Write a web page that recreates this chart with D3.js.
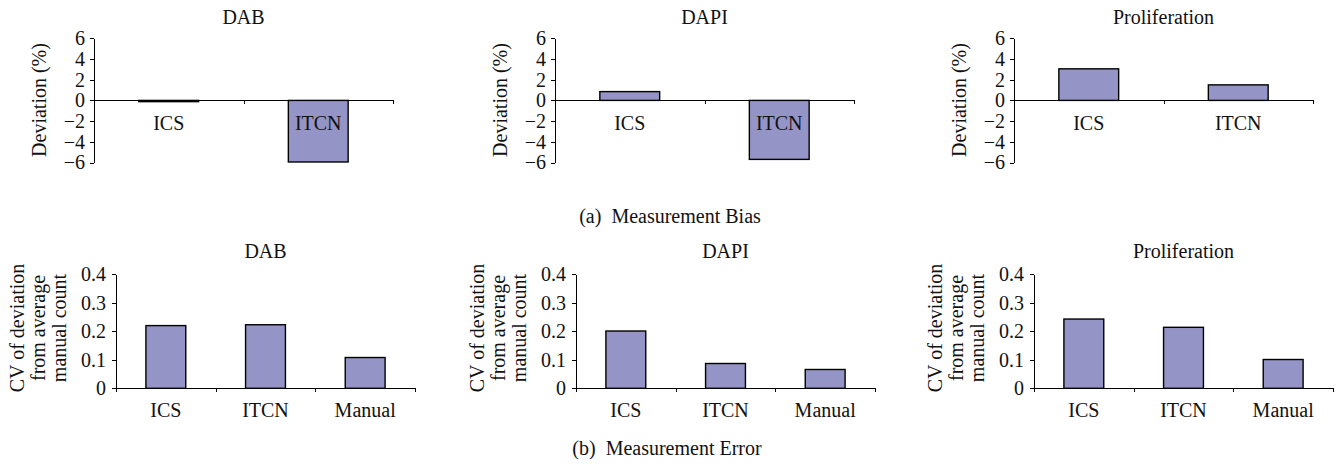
<!DOCTYPE html>
<html>
<head>
<meta charset="utf-8">
<script src="https://cdn.jsdelivr.net/npm/d3@7"></script>
<style>
  body { margin: 0; background: #fff; }
  svg { display: block; font-family: "Liberation Serif", "Times New Roman", serif; }
  .axis path, .axis line { stroke: #000; shape-rendering: crispEdges; }
  .axis text { font-size: 20px; fill: #111; font-family: "Liberation Serif", serif; }
</style>
</head>
<body>
<script>
// values
var panelTitles = ["DAB", "DAPI", "Proliferation"];

var biasCats = ["ICS", "ITCN"];
var dabBias = [-0.12, -5.95];
var dapiBias = [0.85, -5.7];
var prolifBias = [3.05, 1.5];
var biasTicks = [-6, -4, -2, 0, 2, 4, 6];

var errCats = ["ICS", "ITCN", "Manual"];
var dabErr = [0.22, 0.223, 0.108];
var dapiErr = [0.201, 0.087, 0.066];
var prolifErr = [0.243, 0.214, 0.101];
var errTicks = [0, 0.1, 0.2, 0.3, 0.4];

var W = 1339, H = 464;
var barFill = "#9494c6";
var fontSize = 20;

var svg = d3.select("body").append("svg")
    .attr("width", W)
    .attr("height", H);

function drawPanel(opts) {
    var g = svg.append("g").attr("transform", "translate(" + opts.x0 + ",0)");
    var w = opts.width;

    var y = d3.scaleLinear().domain(opts.domain).range(opts.yRange);
    var x = d3.scaleBand().domain(opts.cats).range([0, w])
        .paddingInner(0.6).paddingOuter(0.3);
    var xb = d3.scaleLinear().domain([0, opts.cats.length]).range([0, w]);

    var data = opts.cats.map(function (c, i) { return { cat: c, v: opts.values[i] }; });

    // bars
    g.selectAll("rect.bar")
        .data(data)
        .enter()
        .append("rect")
        .attr("class", "bar")
        .attr("x", function (d) { return x(d.cat); })
        .attr("width", x.bandwidth())
        .attr("y", function (d) { return y(Math.max(0, d.v)); })
        .attr("height", function (d) { return Math.abs(y(d.v) - y(0)); })
        .attr("fill", barFill)
        .attr("stroke", "#000")
        .attr("stroke-width", 1.4);

    // y axis
    g.append("g")
        .attr("class", "axis")
        .call(d3.axisLeft(y)
            .tickValues(opts.ticks)
            .tickSize(4)
            .tickSizeOuter(0)
            .tickPadding(opts.tickPad)
            .tickFormat(opts.fmt));

    // x axis (category boundary ticks)
    g.append("g")
        .attr("class", "axis")
        .attr("transform", "translate(0," + y(0) + ")")
        .call(d3.axisBottom(xb)
            .tickValues(d3.range(opts.cats.length + 1))
            .tickSize(4)
            .tickSizeOuter(0)
            .tickFormat(""));

    // category labels
    g.selectAll("text.cat")
        .data(data)
        .enter()
        .append("text")
        .attr("class", "cat")
        .attr("x", function (d) { return x(d.cat) + x.bandwidth() / 2; })
        .attr("y", y(0) + opts.catDy)
        .attr("text-anchor", "middle")
        .attr("font-size", fontSize)
        .attr("fill", "#111")
        .text(function (d) { return d.cat; });

    // title
    g.append("text")
        .attr("x", w / 2)
        .attr("y", opts.titleY)
        .attr("text-anchor", "middle")
        .attr("font-size", fontSize)
        .attr("fill", "#111")
        .text(opts.title);

    // y label (one or more lines)
    opts.yLabel.forEach(function (line, i) {
        g.append("text")
            .attr("transform", "translate(" + opts.yLabelX[i] + "," + opts.yLabelY + ") rotate(-90)")
            .attr("text-anchor", "middle")
            .attr("font-size", fontSize)
            .attr("fill", "#111")
            .text(line);
    });
}

var biasValues = [dabBias, dapiBias, prolifBias];
var topX = [94, 555, 1014];
biasValues.forEach(function (vals, i) {
    drawPanel({
        x0: topX[i], width: 299,
        cats: biasCats, values: vals,
        domain: [-6, 6], yRange: [162.5, 38.3],
        ticks: biasTicks, fmt: d3.format("d"), tickPad: 5,
        catDy: 30, title: panelTitles[i], titleY: 24,
        yLabel: ["Deviation (%)"], yLabelX: [-48], yLabelY: 100
    });
});

var errValues = [dabErr, dapiErr, prolifErr];
var botX = [116, 576, 1034];
errValues.forEach(function (vals, i) {
    drawPanel({
        x0: botX[i], width: 299,
        cats: errCats, values: vals,
        domain: [0, 0.4], yRange: [388.3, 274.3],
        ticks: errTicks, fmt: d3.format("~g"), tickPad: 6,
        catDy: 29, title: panelTitles[i], titleY: 258,
        yLabel: ["CV of deviation", "from average", "manual count"],
        yLabelX: [-92, -71, -50], yLabelY: 328
    });
});

// sub-figure captions
svg.append("text")
    .attr("x", 670).attr("y", 223)
    .attr("text-anchor", "middle")
    .attr("font-size", fontSize)
    .attr("fill", "#111")
    .attr("xml:space", "preserve")
    .text("(a)  Measurement Bias");

svg.append("text")
    .attr("x", 667).attr("y", 455)
    .attr("text-anchor", "middle")
    .attr("font-size", fontSize)
    .attr("fill", "#111")
    .attr("xml:space", "preserve")
    .text("(b)  Measurement Error");
</script>
</body>
</html>
